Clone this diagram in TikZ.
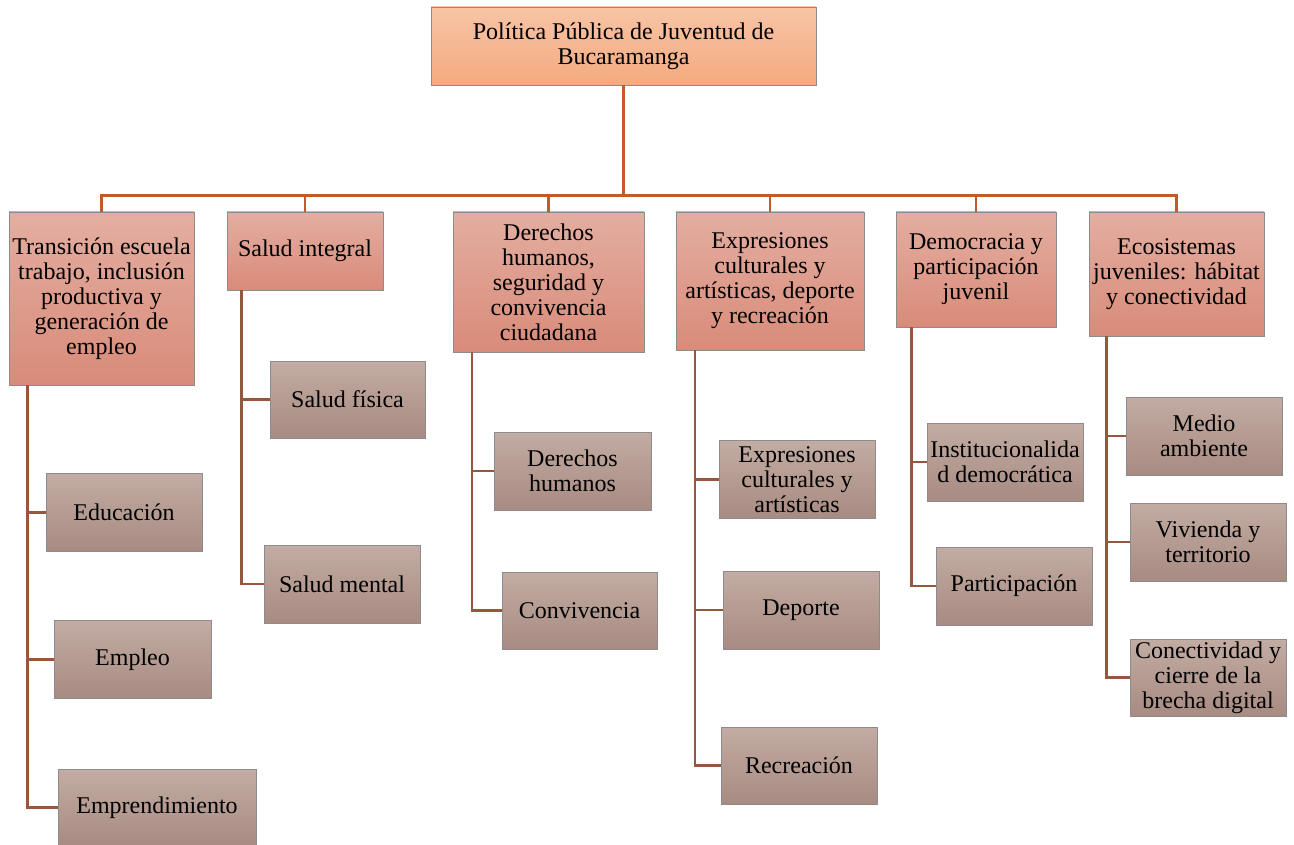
\documentclass[tikz,border=0pt]{standalone}
\usepackage{fontspec}
\setmainfont{Liberation Serif}
\definecolor{rootTop}{HTML}{F8C4A6}
\definecolor{rootBot}{HTML}{F4AA7E}
\definecolor{areaTop}{HTML}{E3AEA1}
\definecolor{areaBot}{HTML}{D98B79}
\definecolor{itemTop}{HTML}{C2ACA3}
\definecolor{itemBot}{HTML}{A88B82}
\definecolor{busCol}{HTML}{C45A2C}
\definecolor{kidCol}{HTML}{96573F}
\tikzset{
  box/.style={draw=black!45, line width=0.9pt, inner sep=1pt, align=center,
    font=\fontsize{24}{25}\selectfont},
  rootbox/.style={box, top color=rootTop, bottom color=rootBot},
  areabox/.style={box, top color=areaTop, bottom color=areaBot},
  itembox/.style={box, top color=itemTop, bottom color=itemBot,
    minimum width=156pt, minimum height=78pt},
  busline/.style={busCol, line width=2.6pt},
  kidline/.style={kidCol, line width=2.8pt}
}
\begin{document}
\begin{tikzpicture}[x=1pt, y=-1pt]
  \useasboundingbox (0,0) rectangle (1294,845);

  % Root
  \node[rootbox, minimum width=385pt, minimum height=78pt] (root) at (623.5,46)
    {Política Pública de Juventud de\\Bucaramanga};

  % Areas
  \node[areabox, minimum width=185pt, minimum height=173pt] (t1) at (101.5,298.5)
    {Transición escuela\\trabajo, inclusión\\productiva y\\generación de\\empleo};
  \node[areabox, minimum width=156pt, minimum height=78pt] (t2) at (305,251)
    {Salud integral};
  \node[areabox, minimum width=191pt, minimum height=140pt] (t3) at (548.5,282)
    {Derechos\\humanos,\\seguridad y\\convivencia\\ciudadana};
  \node[areabox, minimum width=188pt, minimum height=138pt] (t4) at (770,281)
    {Expresiones\\culturales y\\artísticas, deporte\\y recreación};
  \node[areabox, minimum width=160pt, minimum height=115pt] (t5) at (976,269.5)
    {Democracia y\\participación\\juvenil};
  \node[areabox, minimum width=175pt, minimum height=124pt] (t6) at (1176.5,274)
    {Ecosistemas\\juveniles: hábitat\\y conectividad};

  % Items
  \node[itembox] (a1) at (124,512.5) {Educación};
  \node[itembox, minimum width=157pt] (a2) at (132.5,659.5) {Empleo};
  \node[itembox, minimum width=198pt, minimum height=77pt] (a3) at (157,807.5) {Emprendimiento};

  \node[itembox, minimum width=155pt, minimum height=77pt] (b1) at (347.5,399.5) {Salud física};
  \node[itembox] (b2) at (342,584) {Salud mental};

  \node[itembox, minimum width=157pt] (c1) at (572.5,471) {Derechos\\humanos};
  \node[itembox, minimum width=155pt, minimum height=77pt] (c2) at (579.5,610.5) {Convivencia};

  \node[itembox] (d1) at (797,479.5) {Expresiones\\culturales y\\artísticas};
  \node[itembox] (d2) at (801,610) {Deporte};
  \node[itembox, minimum height=77pt] (d3) at (799,765.5) {Recreación};

  \node[itembox] (e1) at (1005,462) {Institucionalida\\d democrática};
  \node[itembox] (e2) at (1014,586) {Participación};

  \node[itembox] (f1) at (1204,436) {Medio\\ambiente};
  \node[itembox] (f2) at (1208,542) {Vivienda y\\territorio};
  \node[itembox, minimum height=77pt] (f3) at (1208,677.5) {Conectividad y\\cierre de la\\brecha digital};

  % Root to areas
  \foreach \t in {t1,t2,t3,t4,t5,t6}
    \draw[busline] (root.south) |- ([yshift=16pt]\t.north) -- (\t.north);

  % Areas to items
  \draw[kidline] ([xshift=19pt]t1.south west) |- (a1.west);
  \draw[kidline] ([xshift=19pt]t1.south west) |- (a2.west);
  \draw[kidline] ([xshift=19pt]t1.south west) |- (a3.west);
  \draw[kidline] ([xshift=15pt]t2.south west) |- (b1.west);
  \draw[kidline] ([xshift=15pt]t2.south west) |- (b2.west);
  \draw[kidline] ([xshift=19.5pt]t3.south west) |- (c1.west);
  \draw[kidline] ([xshift=19.5pt]t3.south west) |- (c2.west);
  \draw[kidline] ([xshift=19.5pt]t4.south west) |- (d1.west);
  \draw[kidline] ([xshift=19.5pt]t4.south west) |- (d2.west);
  \draw[kidline] ([xshift=19.5pt]t4.south west) |- (d3.west);
  \draw[kidline] ([xshift=16pt]t5.south west) |- (e1.west);
  \draw[kidline] ([xshift=16pt]t5.south west) |- (e2.west);
  \draw[kidline] ([xshift=18pt]t6.south west) |- (f1.west);
  \draw[kidline] ([xshift=18pt]t6.south west) |- (f2.west);
  \draw[kidline] ([xshift=18pt]t6.south west) |- (f3.west);
\end{tikzpicture}
\end{document}
